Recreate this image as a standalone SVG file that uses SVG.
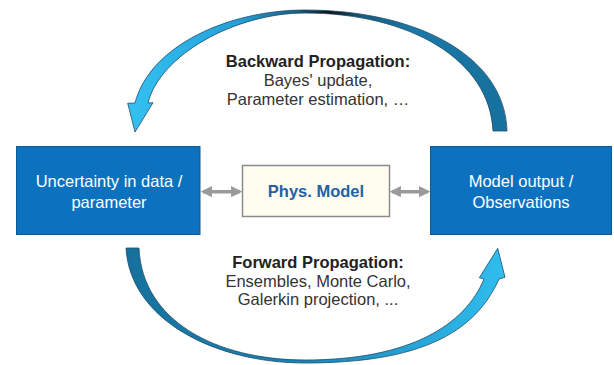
<svg xmlns="http://www.w3.org/2000/svg" width="614" height="365" viewBox="0 0 614 365">
<style>
.box{fill:#0c72c0;stroke:#0a5a98;stroke-width:1}
.mid{fill:#fefdf0;stroke:#8c8c8c;stroke-width:1.5}
.bt{font-family:"Liberation Sans",Arial,sans-serif;font-size:16.5px;fill:#fff;text-anchor:middle}
.mt{font-family:"Liberation Sans",Arial,sans-serif;font-size:16.5px;font-weight:bold;fill:#2461a6;text-anchor:middle}
.h{font-family:"Liberation Sans",Arial,sans-serif;font-size:16.5px;font-weight:bold;fill:#222;text-anchor:middle}
.t{font-family:"Liberation Sans",Arial,sans-serif;font-size:16.5px;fill:#333;text-anchor:middle}
.dbl{stroke:#9a9a9a;stroke-width:3.5;fill:none;marker-start:url(#ah);marker-end:url(#ah)}
.arc{stroke:#1d4d6a;stroke-width:0.8;stroke-linejoin:miter}
</style>
<defs>
<marker id="ah" viewBox="0 0 10 10" refX="8" refY="5" markerWidth="3.2" markerHeight="3.2" orient="auto-start-reverse" markerUnits="strokeWidth">
<path d="M0,0 L10,5 L0,10 Z" fill="#9a9a9a"/>
</marker>
<linearGradient id="gTop" gradientUnits="userSpaceOnUse" x1="125" y1="0" x2="510" y2="0">
<stop offset="0" stop-color="#34c2f2"/>
<stop offset="0.3" stop-color="#239fd8"/>
<stop offset="0.45" stop-color="#1a5c80"/>
<stop offset="0.53" stop-color="#111"/>
<stop offset="0.62" stop-color="#1a5c80"/>
<stop offset="0.75" stop-color="#1a78a8"/>
<stop offset="1" stop-color="#16709c"/>
</linearGradient>
<linearGradient id="gBot" gradientUnits="userSpaceOnUse" x1="125" y1="0" x2="510" y2="0">
<stop offset="0" stop-color="#16709c"/>
<stop offset="0.45" stop-color="#1a84b6"/>
<stop offset="1" stop-color="#30bff0"/>
</linearGradient>
</defs>
<g id="connectors">
<path id="backward-arrow" class="arc" fill="url(#gTop)" d="M507,131 C505,55 415,10 305,10 C230,10 150,45 135,103 L127.7,103.3 L135,132 L153,102.7 L148,103 C160,55 235,13 305,13 C410,13 490,60 493,131 Z"/>
<path id="forward-arrow" class="arc" fill="url(#gBot)" d="M126,248 C130,320 215,363 305,363 C420,363 475,333 499,279 L505,277.3 L497.7,248.3 L479.3,277.7 L484,279 C465,325 410,360 305,360 C215,360 142,320 139,248 Z"/>
<line class="dbl" x1="203" y1="191.7" x2="240" y2="191.7"/>
<line class="dbl" x1="392" y1="191.7" x2="428" y2="191.7"/>
</g>
<g id="node-uncertainty">
<rect class="box" x="16.5" y="146.5" width="183.5" height="88"/>
<text class="bt" x="109" y="186.5">Uncertainty in data /</text>
<text class="bt" x="109" y="207.5">parameter</text>
</g>
<g id="node-physmodel">
<rect class="mid" x="242.5" y="165.5" width="147" height="51"/>
<text class="mt" x="316" y="197">Phys. Model</text>
</g>
<g id="node-output">
<rect class="box" x="430.5" y="146.5" width="181" height="88"/>
<text class="bt" x="521" y="186.5">Model output /</text>
<text class="bt" x="521" y="207.5">Observations</text>
</g>
<g id="label-backward">
<text class="h" x="318" y="67">Backward Propagation:</text>
<text class="t" x="318" y="86">Bayes' update,</text>
<text class="t" x="318" y="105">Parameter estimation, …</text>
</g>
<g id="label-forward">
<text class="h" x="318" y="268">Forward Propagation:</text>
<text class="t" x="318" y="287">Ensembles, Monte Carlo,</text>
<text class="t" x="318" y="305">Galerkin projection, ...</text>
</g>
</svg>
